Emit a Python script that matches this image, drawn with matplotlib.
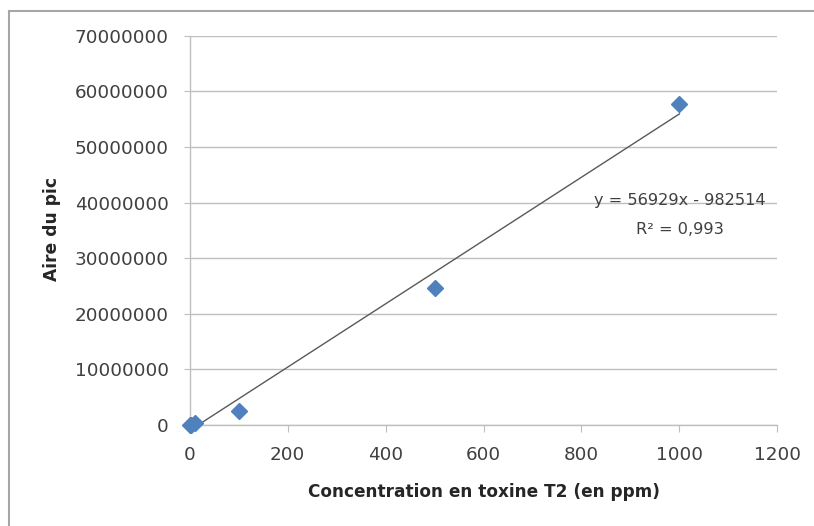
import matplotlib
matplotlib.use("Agg")
import matplotlib.pyplot as plt
from matplotlib.lines import Line2D
import numpy as np

conc = [0, 2, 10, 100, 500, 1000]
area = [0, 50000, 300000, 2450000, 24600000, 57800000]
slope = 56929
intercept = -982514
eq_text = "y = 56929x - 982514"
r2_text = "R² = 0,993"
xticks = [0, 200, 400, 600, 800, 1000, 1200]
yticks = [0, 10000000, 20000000, 30000000, 40000000, 50000000, 60000000, 70000000]

plt.rcParams['font.family'] = ['DejaVu Sans']
fig = plt.figure(figsize=(8.14, 5.26), dpi=100)
ax = fig.add_axes([0.233, 0.192, 0.722, 0.740])

ax.set_xlim(0, 1200)
ax.set_ylim(0, 70000000)

# trendline
xl = np.array([min(conc), max(conc)], dtype=float)
x0 = max(xl[0], -intercept / slope)
xs = np.array([x0, xl[1]])
ax.plot(xs, slope * xs + intercept, color="#595959", lw=1.0, zorder=3, clip_on=True)

ax.plot(conc, area, linestyle="none", marker="D", markersize=8.5,
        color="#4F81BD", markeredgecolor="#4F81BD", zorder=4, clip_on=False)

ax.set_xticks(xticks)
ax.set_yticks(yticks)
ax.set_xticklabels([str(v) for v in xticks], fontsize=13.2, color="#404040")
ax.set_yticklabels([str(v) for v in yticks], fontsize=13.2, color="#404040")
ax.tick_params(axis="x", direction="out", length=5, color="#BFBFBF", pad=10)
ax.tick_params(axis="y", direction="out", length=4, color="#BFBFBF", pad=11)

ax.grid(axis="y", color="#BFBFBF", lw=1.0)
ax.set_axisbelow(True)
for s in ["top", "right"]:
    ax.spines[s].set_visible(False)
for s in ["left", "bottom"]:
    ax.spines[s].set_color("#BFBFBF")
    ax.spines[s].set_linewidth(1.0)

ax.set_xlabel("Concentration en toxine T2 (en ppm)", fontsize=12.2,
              fontweight="bold", color="#262626", labelpad=14)
fig.text(52 / 814, 1 - 229 / 526, "Aire du pic", rotation=90, fontsize=12.3,
         fontweight="bold", color="#262626", ha="center", va="center")

fig.text(680 / 814, 1 - 201 / 526, eq_text, fontsize=11.6, color="#404040",
         ha="center", va="center")
fig.text(680 / 814, 1 - 229 / 526, r2_text, fontsize=11.6, color="#404040",
         ha="center", va="center")

# chart border (left and top visible)
fig.add_artist(Line2D([9 / 814, 9 / 814], [0, 1 - 11 / 526], transform=fig.transFigure,
                      color="#A6A6A6", lw=1.5))
fig.add_artist(Line2D([9 / 814, 1], [1 - 11 / 526, 1 - 11 / 526], transform=fig.transFigure,
                      color="#A6A6A6", lw=1.5))

fig.savefig("out.png", dpi=100)
